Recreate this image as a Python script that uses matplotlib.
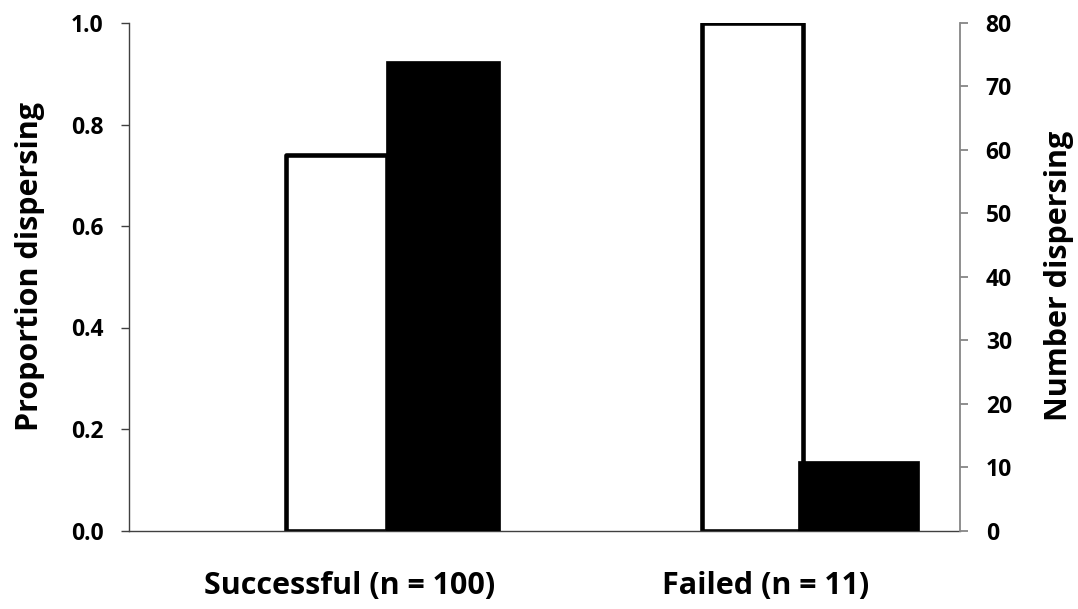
import matplotlib
matplotlib.use("Agg")
import matplotlib.pyplot as plt
import numpy as np

# ---- data ----
categories = ["Successful (n = 100)", "Failed (n = 11)"]
proportion_dispersing = [0.74, 1.0]   # white bars, left axis
number_dispersing = [74, 11]          # black bars, right axis
left_ticks = [0.0, 0.2, 0.4, 0.6, 0.8, 1.0]
right_ticks = [0, 10, 20, 30, 40, 50, 60, 70, 80]

# ---- layout / style ----
WHITE_WIDTH = 0.242
BLACK_OFFSETS = [0.1185, 0.110]
BLACK_WIDTHS = [0.2745, 0.291]
LABEL_SHIFT = 0.031
FONT = "Open Sans"

plt.rcParams['font.family'] = [FONT, 'DejaVu Sans']

fig = plt.figure(figsize=(10.78, 6.09), dpi=100)
ax = fig.add_axes([129/1078, (609-530.5)/609, (960-129)/1078, (530.5-23)/609])
ax2 = ax.twinx()

x = np.arange(len(categories))

ax.bar(x, proportion_dispersing, width=WHITE_WIDTH, color='white',
       edgecolor='black', linewidth=3.3, joinstyle='round', zorder=2)
ax2.bar(x + np.array(BLACK_OFFSETS), number_dispersing, width=BLACK_WIDTHS,
        align='edge', color='black', edgecolor='black', linewidth=0.5, zorder=2)

ax.set_xlim(-0.5, len(categories) - 0.5)
ax.set_ylim(0, 1.0)
ax2.set_ylim(0, 80)

ax.set_yticks(left_ticks)
ax.set_yticklabels([f"{t:.1f}" for t in left_ticks])
ax2.set_yticks(right_ticks)
ax2.set_yticklabels([str(t) for t in right_ticks])

ax.set_xticks(x + LABEL_SHIFT)
ax.set_xticklabels(categories)

left_col = '#404040'
right_col = '#868686'

for a in (ax, ax2):
    a.spines['top'].set_visible(False)
ax.spines['right'].set_visible(False)
ax2.spines['left'].set_visible(False)
ax2.spines['bottom'].set_visible(False)
ax.spines['left'].set_color(left_col)
ax.spines['bottom'].set_color(left_col)
ax2.spines['right'].set_color(right_col)
for s in ('left', 'bottom'):
    ax.spines[s].set_linewidth(1.0)
ax2.spines['right'].set_linewidth(1.3)

ax.tick_params(axis='y', direction='out', length=6, width=1.0, color=left_col,
               pad=12.5, labelsize=16.5)
ax2.tick_params(axis='y', direction='out', length=6, width=1.3, color=right_col,
                pad=12.5, labelsize=16.5)
ax.tick_params(axis='x', length=0, pad=29, labelsize=22)
for lbl in ax.get_yticklabels() + ax2.get_yticklabels() + ax.get_xticklabels():
    lbl.set_fontweight('bold')

ax.set_ylabel("Proportion dispersing", fontsize=22, fontweight='bold', va='center')
ax.yaxis.set_label_coords((30 - 129) / 831, 0.521)
ax2.set_ylabel("Number dispersing", fontsize=22, fontweight='bold', va='center')
ax2.yaxis.set_label_coords((1059 - 129) / 831, 0.502)

fig.savefig("out.png", dpi=100)
